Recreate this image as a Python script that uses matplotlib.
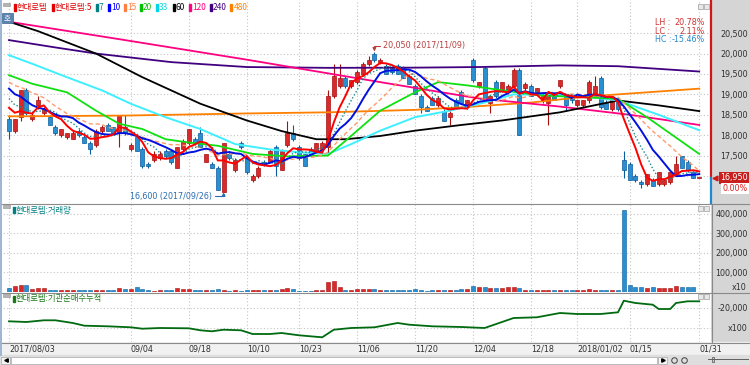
import numpy as np
import pandas as pd
import matplotlib
matplotlib.use('Agg')
import matplotlib.pyplot as plt
from matplotlib.patches import Rectangle
from matplotlib.transforms import blended_transform_factory, ScaledTranslation
from matplotlib import font_manager as fm

plt.rcParams['font.family'] = ['Noto Sans CJK KR', 'DejaVu Sans']

try:
    fm.findfont('Liberation Sans Narrow', fallback_to_default=False)
    NARROW, NSIZE = 'Liberation Sans Narrow', 7.2
except ValueError:
    NARROW, NSIZE = 'DejaVu Sans', 5.8

# ---- data ----
holidays = ['2017-08-15', '2017-10-02', '2017-10-03', '2017-10-04', '2017-10-05',
            '2017-10-06', '2017-10-09', '2017-12-25', '2017-12-29', '2018-01-01']
tick_dates = ['2017-08-03', '2017-09-04', '2017-09-18', '2017-10-10', '2017-10-23', '2017-11-06',
              '2017-11-20', '2017-12-04', '2017-12-18', '2018-01-02', '2018-01-15', '2018-01-31']
tick_labels = ['2017/08/03', '09/04', '09/18', '10/10', '10/23', '11/06',
               '11/20', '12/04', '12/18', '2018/01/02', '01/15', '01/31']

opens = [18400, 18100, 18450, 19100, 18400, 18750, 18550, 18450, 18200, 18000,
         17950, 17900, 18100, 17950, 17800, 17750, 18100, 18250, 18200, 18050,
         18200, 17650, 17950, 17650, 17300, 17400, 17450, 17600, 17600, 17200,
         17650, 17800, 17900, 18050, 17350, 17300, 17200, 16600, 17550, 17150,
         17800, 17450, 16900, 17000, 17350, 17350, 17700, 17150, 17750, 18050,
         17700, 17550, 17650, 17600, 17650, 17700, 18950, 19200, 19400, 19200,
         19300, 19500, 19750, 20000, 19800, 19700, 19650, 19700, 19650, 19450,
         19200, 18950, 18700, 18900, 18750, 18600, 18450, 18850, 19050, 18700,
         19850, 19200, 19650, 18800, 19300, 19100, 19050, 19200, 19600, 19150,
         19200, 19050, 18850, 18800, 18950, 19200, 18950, 18950, 18750, 18750,
         18850, 18950, 19400, 18800, 18650, 18850, 17400, 17300, 17000, 16850,
         16800, 16900, 16800, 16800, 16850, 17050, 17500, 17350, 17100, 16950]
highs = [18500, 18400, 19100, 19150, 18550, 18950, 18700, 18500, 18250, 18150,
         18050, 18100, 18150, 18000, 17850, 18150, 18250, 18300, 18200, 18500,
         18500, 17800, 18000, 17700, 17350, 17600, 17600, 17650, 17650, 17700,
         17900, 18150, 17950, 18200, 17550, 17350, 17250, 17800, 17600, 17450,
         17850, 17500, 17050, 17250, 17400, 17650, 17750, 17650, 18350, 18250,
         17750, 17550, 17700, 17800, 17850, 19100, 19750, 19750, 19450, 19350,
         19600, 19800, 19950, 20050, 19900, 19750, 19700, 19750, 19700, 19500,
         19250, 19000, 18750, 18950, 18950, 18650, 18600, 18900, 19100, 18850,
         19900, 19300, 19700, 18950, 19350, 19300, 19250, 19650, 19650, 19300,
         19250, 19150, 19000, 19000, 19000, 19350, 19000, 19000, 18850, 18850,
         19350, 19450, 19450, 18850, 18850, 18900, 17600, 17350, 17050, 16900,
         17050, 16950, 17100, 16900, 17100, 17500, 17500, 17400, 17100, 16950]
lows = [17900, 18050, 18350, 18500, 18350, 18650, 18500, 18250, 18000, 17950,
        17900, 17900, 17950, 17800, 17550, 17700, 18050, 18100, 18050, 17700,
        18000, 17600, 17600, 17200, 17200, 17350, 17400, 17450, 17300, 17200,
        17600, 17750, 17750, 17700, 17350, 17200, 16650, 16600, 17400, 17100,
        17650, 17050, 16850, 16950, 17250, 17350, 17000, 17150, 17700, 17850,
        17400, 17250, 17500, 17600, 17600, 17550, 18900, 19150, 19150, 19150,
        19250, 19450, 19700, 19800, 19750, 19500, 19500, 19500, 19400, 19250,
        19000, 18550, 18600, 18750, 18700, 18350, 18250, 18700, 18800, 18650,
        19300, 19150, 18850, 18550, 18900, 19050, 19000, 19150, 18000, 19100,
        18950, 19000, 18800, 18250, 18850, 19150, 18600, 18800, 18700, 18700,
        18800, 18950, 18650, 18650, 18600, 18600, 16950, 16900, 16850, 16700,
        16750, 16750, 16750, 16750, 16800, 17000, 17200, 17100, 16950, 16950]
closes = [18100, 18400, 19100, 18550, 18500, 18850, 18650, 18250, 18050, 18150,
          18050, 18050, 18000, 17800, 17650, 18100, 18200, 18100, 18050, 18500,
          18050, 17750, 17600, 17250, 17250, 17550, 17550, 17500, 17350, 17700,
          17850, 18150, 17800, 17700, 17550, 17200, 16650, 17800, 17450, 17400,
          17700, 17100, 17000, 17200, 17300, 17600, 17250, 17600, 18050, 17900,
          17450, 17250, 17550, 17800, 17800, 18950, 19450, 19400, 19200, 19350,
          19550, 19750, 19850, 19850, 19850, 19500, 19550, 19500, 19400, 19250,
          19000, 18700, 18600, 18750, 18900, 18350, 18550, 18700, 18800, 18850,
          19350, 19300, 18850, 18950, 18950, 19300, 19200, 19600, 18000, 19250,
          18950, 19150, 18950, 19000, 18850, 19350, 18750, 18850, 18850, 18850,
          19300, 19200, 18700, 18650, 18850, 18650, 17150, 16900, 16900, 16800,
          17050, 16750, 17100, 16900, 17100, 17300, 17200, 17150, 16950, 16950]
# closes before 08/03, estimated from where the short averages start
prev_closes = [19700, 19650, 19600, 19550, 19600, 19750, 19700, 19650,
               19500, 19450, 19000, 18900, 18750, 18600]

volume = [21000, 30000, 34000, 37000, 17000, 18000, 18000, 9000, 9000, 8000,
          10000, 9000, 9000, 10000, 12000, 10000, 9000, 12000, 9000, 21000,
          16000, 13000, 25000, 16000, 10000, 6000, 10000, 9000, 10000, 18000,
          13000, 13000, 9000, 10000, 10000, 12000, 13000, 9000, 5000, 8000,
          5000, 9000, 9000, 10000, 9000, 10000, 12000, 13000, 18000, 15000,
          6000, 6000, 5000, 9000, 12000, 50000, 56000, 24000, 12000, 12000,
          16000, 16000, 13000, 13000, 12000, 10000, 10000, 9000, 10000, 9000,
          13000, 10000, 6000, 9000, 10000, 9000, 8000, 9000, 13000, 16000,
          33000, 26000, 25000, 21000, 19000, 18000, 24000, 28000, 21000, 10000,
          9000, 9000, 10000, 12000, 9000, 10000, 8000, 8000, 10000, 10000,
          13000, 12000, 12000, 10000, 10000, 9000, 420000, 36000, 28000, 28000,
          22000, 25000, 22000, 22000, 22000, 32000, 24000, 24000, 24000, 0]

# longer moving averages, read at sample days (day index, price)
ma20_pts = [(0, 19470), (4, 19260), (10, 19050), (15, 18600), (19, 18280), (23, 18150),
            (27, 17900), (31, 17820), (36, 17740), (42, 17540), (48, 17480), (55, 17500),
            (58, 17860), (64, 18600), (70, 19050), (74, 19300), (79, 19220), (85, 19100),
            (92, 18970), (99, 18930), (105, 18890), (110, 18440), (119, 17540)]
ma33_pts = [(0, 19960), (4, 19750), (10, 19420), (16, 19100), (21, 18770), (27, 18440),
            (33, 18150), (39, 17780), (45, 17650), (50, 17580), (55, 17540), (59, 17780),
            (64, 18110), (70, 18440), (76, 18600), (82, 18800), (87, 19000), (98, 18970),
            (105, 18850), (112, 18500), (119, 18120)]
ma60_pts = [(0, 20780), (5, 20550), (15, 20000), (23, 19420), (33, 18770), (41, 18360),
            (47, 18100), (53, 17900), (58, 17900), (64, 17980), (70, 18110), (78, 18250),
            (85, 18360), (95, 18560), (105, 18850), (112, 18730), (119, 18590)]
ma120_pts = [(0, 20780), (20, 20330), (41, 19850), (64, 19300), (81, 18900),
             (95, 18700), (107, 18500), (119, 18250)]
ma240_pts = [(0, 20330), (8, 20150), (15, 20000), (28, 19790), (41, 19670), (55, 19650),
             (70, 19655), (81, 19670), (95, 19710), (105, 19690), (119, 19560)]
ma480_pts = [(0, 18460), (20, 18480), (40, 18530), (55, 18560), (70, 18620), (80, 18700),
             (90, 18800), (100, 18950), (110, 19050), (119, 19140)]

# institutional net buying, cumulative (x100)
inst_pts = [(0, -33800), (3, -34500), (6, -32800), (8, -32800), (11, -35500), (13, -38200),
            (17, -38800), (21, -39800), (23, -41200), (26, -40500), (31, -40800), (33, -42800),
            (35, -43800), (37, -42200), (40, -42800), (42, -46500), (45, -46500), (47, -45500),
            (50, -47800), (52, -48800), (54, -49800), (56, -42200), (59, -40500), (63, -39800),
            (67, -35500), (69, -37200), (73, -38800), (78, -39500), (82, -40500), (84, -36500),
            (87, -30500), (91, -29800), (95, -25500), (98, -26500), (102, -26500), (105, -24800),
            (106, -13200), (108, -15500), (111, -17200), (112, -21500), (114, -21500),
            (115, -15500), (117, -13800), (119, -13800)]

legend_items = [('현대로템', '#e00000'), ('현대로템:5', '#e00000'), ('7', '#008080'),
                ('10', '#0000ff'), ('15', '#ff8040'), ('20', '#00c000'), ('33', '#00d8e8'),
                ('60', '#000000'), ('120', '#ff0080'), ('240', '#400080'), ('480', '#ff8000')]

# ---- derived ----
days = pd.bdate_range('2017-08-03', '2018-01-31')
days = days[~days.isin(pd.to_datetime(holidays))]
idx = np.arange(len(days))
tick_pos = days.get_indexer(pd.to_datetime(tick_dates))

o, h, l, c = map(np.array, (opens, highs, lows, closes))
up = c >= o
all_c = pd.Series(prev_closes + closes, dtype=float)
short_ma = {n: all_c.rolling(n).mean().to_numpy()[len(prev_closes):] for n in (5, 7, 10, 15)}

W, H = 750, 365
RED, RED_E = '#d82a2a', '#a81010'
BLUE, BLUE_E = '#2a8ed2', '#0b5c9c'


def box(x0, y0, x1, y1):
    return [x0 / W, 1 - y1 / H, (x1 - x0) / W, (y1 - y0) / H]


fig = plt.figure(figsize=(W / 100, H / 100), dpi=100)
bg = fig.add_axes(box(0, 0, W, H), zorder=0)
bg.set_xlim(0, W)
bg.set_ylim(H, 0)
bg.axis('off')
bg.add_patch(Rectangle((711, 0), 39, 343, color='#d5d5d5'))
bg.add_patch(Rectangle((0, 342), W, 13, color='#f1f1f1'))
bg.add_patch(Rectangle((0, 355), W, 10, color='#dedede'))

ax_p = fig.add_axes(box(0, 0, 711, 203), zorder=2)
ax_v = fig.add_axes(box(0, 204, 711, 292), zorder=2)
ax_i = fig.add_axes(box(0, 293, 711, 342), zorder=2)

xl = (-1.55, 121.03)
for ax in (ax_p, ax_v, ax_i):
    ax.set_xlim(*xl)
    for s in ax.spines.values():
        s.set_visible(False)
    ax.set_xticks(tick_pos)
    ax.grid(True, color='#c4c4c4', ls=(0, (1, 2)), lw=0.8)
    ax.set_axisbelow(True)
    ax.yaxis.tick_right()
    ax.tick_params(axis='both', length=0)
    ax.tick_params(axis='y', pad=26.6, labelcolor='#303030')
    ax.tick_params(axis='x', labelbottom=False)

# ---- price panel ----
ax_p.set_ylim(16337, 21313)
pt = [17000, 17500, 18000, 18500, 19000, 19500, 20000, 20500]
ax_p.set_yticks(pt)
ax_p.set_yticklabels(['' if v == 17000 else f'{v:,}' for v in pt], family=NARROW, size=NSIZE)

ax_p.vlines(idx, l, h, colors=np.where(up, RED_E, BLUE_E), lw=0.8, zorder=2)
body = np.maximum(np.abs(c - o), 20)
ax_p.bar(idx, body, bottom=np.minimum(o, c), width=0.7, color=np.where(up, RED, BLUE),
         edgecolor=np.where(up, RED_E, BLUE_E), lw=0.5, zorder=2)


def pts_line(pts, **kw):
    xs, ys = zip(*pts)
    ax_p.plot(xs, ys, zorder=3, **kw)


pts_line(ma480_pts, color='#ff8000', lw=1.3)
pts_line(ma240_pts, color='#400080', lw=1.3)
pts_line(ma120_pts, color='#ff0080', lw=1.3)
pts_line(ma60_pts, color='#000000', lw=1.3)
pts_line(ma33_pts, color='#3ef0ff', lw=1.4)
pts_line(ma20_pts, color='#10e010', lw=1.3)
ax_p.plot(idx, short_ma[15], color='#ff9a6a', lw=1.0, ls=(0, (3, 2)), zorder=3)
ax_p.plot(idx, short_ma[7], color='#1a8a8a', lw=1.0, ls=(0, (1, 1.5)), zorder=3)
ax_p.plot(idx, short_ma[10], color='#0010e0', lw=1.4, zorder=3)
ax_p.plot(idx, short_ma[5], color='#ff0000', lw=1.4, zorder=3)

# high / low notes
hi_i, lo_i = int(np.argmax(h)), int(np.argmin(l))
hi_txt = f"{h[hi_i]:,} ({days[hi_i]:%Y/%m/%d})"
lo_txt = f"{l[lo_i]:,} ({days[lo_i]:%Y/%m/%d})"
ax_p.annotate(hi_txt, xy=(hi_i, h[hi_i]), xytext=(6, 4), textcoords='offset points',
              ha='left', va='center', color='#b84040', family=NARROW, size=NSIZE,
              arrowprops=dict(arrowstyle='-|>', color='#b84040', lw=0.8, mutation_scale=5,
                              shrinkA=0, shrinkB=0, relpos=(0, 0.5),
                              connectionstyle='angle,angleA=180,angleB=90,rad=0'), zorder=4)
ax_p.annotate(lo_txt, xy=(lo_i, l[lo_i]), xytext=(-8, -3), textcoords='offset points',
              ha='right', va='center', color='#2a6db0', family=NARROW, size=NSIZE,
              arrowprops=dict(arrowstyle='-|>', color='#2a6db0', lw=0.8, mutation_scale=5,
                              shrinkA=0, shrinkB=0, relpos=(1, 0.5),
                              connectionstyle='angle,angleA=0,angleB=90,rad=0'), zorder=4)

# range stats
lh = h.max() / l.min() * 100 - 100
lc = c[-1] / l.min() * 100 - 100
hc = c[-1] / h.max() * 100 - 100
for k, (lab, val, col) in enumerate([('LH', lh, '#d03030'), ('LC', lc, '#d03030'), ('HC', hc, '#2a88c8')]):
    y = 0.887 - k * 0.042
    ax_p.text(0.921, y, f'{lab} :', transform=ax_p.transAxes, color=col, family=NARROW,
              size=NSIZE, va='center', ha='left')
    ax_p.text(0.991, y, f'{val:.2f}%', transform=ax_p.transAxes, color=col, family=NARROW,
              size=NSIZE, va='center', ha='right')

# current price bar and tag
blend = blended_transform_factory(ax_p.transAxes, ax_p.transData)
ax_p.plot([1, 1], [c[-1], 21313], transform=blend, color='#d01818', lw=1.6, clip_on=False, zorder=5)
ax_p.plot([1, 1], [16337, c[-1]], transform=blend, color='#1f8ad0', lw=1.6, clip_on=False, zorder=5)
ax_p.plot([1], [c[-1]], transform=blend + ScaledTranslation(4 / 100, 0, fig.dpi_scale_trans),
          marker='<', ms=3.5, color='#d01818', clip_on=False, zorder=5)
chg = (c[-1] / c[-2] - 1) * 100
ax_p.annotate(f'{c[-1]:,}', xy=(1, c[-1]), xycoords=blend, xytext=(26.6, 0),
              textcoords='offset points', ha='right', va='center', color='white',
              family=NARROW, size=NSIZE,
              bbox=dict(boxstyle='square,pad=0.15', fc='#c81e1e', ec='none'), zorder=5)
ax_p.annotate(f'{chg:.2f}%', xy=(1, c[-1]), xycoords=blend, xytext=(26.6, -7.4),
              textcoords='offset points', ha='right', va='center', color='#e02020',
              family=NARROW, size=NSIZE,
              bbox=dict(boxstyle='square,pad=0.15', fc='white', ec='none'), zorder=5)

# ---- volume panel ----
ax_v.set_ylim(0, 451000)
vt = [100000, 200000, 300000, 400000]
ax_v.set_yticks(vt)
ax_v.set_yticklabels([f'{v:,}' for v in vt], family=NARROW, size=NSIZE)
ax_v.bar(idx, volume, width=0.7, color=np.where(up, RED, BLUE),
         edgecolor=np.where(up, RED_E, BLUE_E), lw=0.4)

# ---- institutional panel ----
ax_i.set_ylim(-54500, -5500)
it = [-40000, -20000]
ax_i.set_yticks(it)
ax_i.set_yticklabels(['x100', '-20,000'], family=NARROW, size=NSIZE)
ix, iv = zip(*inst_pts)
ax_i.plot(ix, iv, color='#006a10', lw=1.3)
ax_i.tick_params(axis='x', labelbottom=True, pad=1.5, labelcolor='#303030')
ax_i.set_xticklabels(tick_labels, ha='left', family=NARROW, size=NSIZE)

for ax in (ax_p, ax_v, ax_i):
    for t in ax.get_yticklabels():
        t.set_horizontalalignment('right')

# ---- overlay: frame, legends, buttons ----
ov = fig.add_axes(box(0, 0, W, H), zorder=10)
ov.set_xlim(0, W)
ov.set_ylim(H, 0)
ov.axis('off')
ov.patch.set_alpha(0)

for y in (203.5, 292.5, 342.5):
    ov.plot([0, W], [y, y], color='#8a8a8a', lw=0.8)
ov.plot([711.5, 711.5], [203.5, 342.5], color='#8a8a8a', lw=0.8)
ov.plot([0.6, 0.6], [0, 355], color='#9cb6d4', lw=1.4)
ov.text(747, 287.5, 'x10', ha='right', va='center', family=NARROW, size=NSIZE, color='#303030')

# panel legends
x = 14
renderer = fig.canvas.get_renderer()
for name, col in legend_items:
    ov.add_patch(Rectangle((x, 4), 2, 7, color=col))
    t = ov.text(x + 3, 7.5, name, color=col, size=6, va='center', ha='left')
    bb = t.get_window_extent(renderer=renderer)
    x = x + 3 + bb.width * 100 / fig.dpi + 4
for y0 in (3, 205, 294):
    ov.add_patch(Rectangle((3, y0), 7, 3, fc='#b4b4b4', ec='#909090', lw=0.4))
ov.add_patch(Rectangle((13, 207), 2, 6, color='#008080'))
ov.text(16, 210, '현대로템:거래량', color='#008080', size=6, va='center', ha='left')
ov.add_patch(Rectangle((13, 296), 2, 6, color='#1a7a1a'))
ov.text(16, 299, '현대로템:기관순매수누적', color='#1a7a1a', size=6, va='center', ha='left')

ov.add_patch(Rectangle((2, 13), 11, 10, fc='#5b83b0', ec='#3e6690', lw=0.5))
ov.text(7.5, 18, '호', color='white', size=5.5, ha='center', va='center')

for y0 in (4, 206, 294):
    for x0 in (698, 704):
        ov.add_patch(Rectangle((x0, y0), 5, 5, fc='#e8e8e8', ec='#a0a0a0', lw=0.5))

# scroll bar row
ov.add_patch(Rectangle((11, 356.5), 646, 7, fc='white', ec='#a8a8a8', lw=0.5))
ov.add_patch(Rectangle((1, 356.5), 9, 7, fc='#f4f4f4', ec='#a8a8a8', lw=0.5))
ov.plot([5.5], [360], marker='<', ms=2.5, color='black')
ov.add_patch(Rectangle((658, 356.5), 9, 7, fc='#f4f4f4', ec='#a8a8a8', lw=0.5))
ov.plot([662.5], [360], marker='>', ms=2.5, color='black')
for cx in (674, 684):
    ov.plot([cx], [359.5], marker='o', ms=4, mfc='none', mec='#404040', mew=0.7)
ov.plot([708, 748], [359, 359], color='#606060', lw=0.7)
ov.add_patch(Rectangle((712, 356.5), 2, 5, fc='#d0d0d0', ec='#505050', lw=0.5))

fig.savefig('out.png', dpi=100)
